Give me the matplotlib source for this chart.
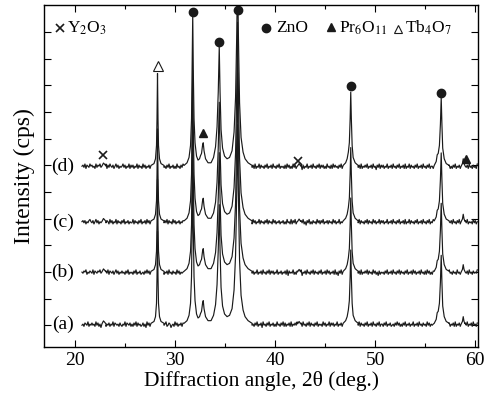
import numpy as np
import matplotlib
matplotlib.use("Agg")
import matplotlib.pyplot as plt

plt.rcParams['font.family'] = ['Liberation Serif', 'DejaVu Serif']
plt.rcParams['mathtext.fontset'] = 'stix'

# sample labels and the vertical offset of each pattern (arb. units)
labels = ["(a)", "(b)", "(c)", "(d)"]
baselines = [1.03, 2.98, 4.87, 6.95]

# background scan points (2theta) and noise read as digits 0..9 per trace
scan_start, scan_end, scan_step = 20.7, 60.2, 0.1
noise_a = ("4536547354" "6453746352" "5647354635" "4736545364" "3547365463"
           "5364736453" "4635274635" "5463746354" "3645734652" "4537463546"
           "3647354736" "4563746354" "3746535463" "4735364573" "6354735463"
           "4635273645" "3746354637" "4536473546" "2745364735" "4635374536"
           "4736354637" "3546473546" "3745364736" "4536473545" "3746354736"
           "4635473546" "3745364735" "4637354736" "4536473546" "3745364735"
           "5364735463" "4536474635" "3647354635" "4735463745" "3645374635"
           "4536374536" "3746354635" "4637354637" "3546473546" "3745364735")
noise_b = ("5465735465" "4736546574" "6354647365" "4635746354" "6453647354"
           "5364735463" "4536474635" "3647354635" "4735463745" "3645374635"
           "4536374536" "3746354635" "4637354637" "3546473546" "3745364735"
           "4635473645" "3746354736" "4635473546" "3745364736" "4635473546"
           "3546372645" "4735364637" "2546374536" "4736453647" "3546374635"
           "4637352647" "3546374536" "4736354637" "3546473645" "3746352635"
           "4536473546" "3745364736" "4536473546" "3746354637" "4536374635"
           "3647354636" "4735463745" "3645374536" "4735463745" "3645473546")
noise_c = ("5646354675" "4635746354" "5736465374" "6354736453" "6473546354"
           "4736453647" "3546374635" "4736354637" "3546473645" "3746354635"
           "4637354636" "4735463745" "3645374536" "4735463745" "3645473546"
           "3745364736" "4536473546" "3746354736" "4536473645" "3746354635"
           "4635374537" "3647354636" "4735264735" "3645374636" "4735463645"
           "3746354735" "4536473546" "3745264736" "4536473645" "3746354736"
           "4635473546" "3745364735" "4637354736" "4536473546" "3745364735"
           "4736354637" "3546473546" "3745364736" "4536473545" "3746354736")
noise_d = ("5647365475" "6453746574" "6354736475" "4635746354" "5746354736"
           "4635473645" "3746354637" "4536473546" "3745364735" "4635374536"
           "4736354637" "3546473546" "3745364736" "4536473545" "3746354736"
           "4635473546" "3745364735" "4637354736" "4536473546" "3745364735"
           "4536374635" "3746354736" "2635473546" "3745364736" "4635374536"
           "3746453647" "3546372635" "4736354637" "3546473546" "3745264736"
           "4635473546" "3745364735" "4637354736" "4536473546" "3745364735"
           "5364735463" "4536474635" "3647354635" "4735463745" "3645374635")
noise_scale = 0.042

# peak profiles: 2theta vertices and height above background
peak_x = [
    [22.7, 22.85, 22.95, 23.1],
    [27.6, 27.9, 28.05, 28.15, 28.2, 28.25, 28.3, 28.35, 28.45, 28.6, 28.9],
    [30.9, 31.2, 31.4, 31.55, 31.65, 31.72, 31.77, 31.83, 31.9, 32.0, 32.15,
     32.3, 32.45, 32.55, 32.65, 32.75, 32.82, 32.9, 33.05, 33.3, 33.6, 33.85,
     34.05, 34.2, 34.32, 34.42, 34.5, 34.6, 34.75, 34.95, 35.2, 35.45, 35.7,
     35.9, 36.05, 36.17, 36.25, 36.33, 36.45, 36.6, 36.8, 37.0, 37.3, 37.7],
    [42.25, 42.4, 42.55],
    [46.8, 47.05, 47.2, 47.32, 47.42, 47.5, 47.56, 47.62, 47.7, 47.8, 48.0, 48.3],
    [55.9, 56.1, 56.2, 56.3, 56.42, 56.52, 56.6, 56.67, 56.75, 56.9, 57.1, 57.4],
    [58.6, 58.72, 58.8, 58.88, 59.0],
]
peak_y = [
    [0.03, 0.14, 0.1, 0.03],
    [0.05, 0.12, 0.3, 0.8, 1.8, 3.5, 1.8, 0.8, 0.3, 0.12, 0.05],
    [0.05, 0.15, 0.35, 0.8, 1.8, 4.0, 5.7, 3.5, 1.8, 0.9, 0.4,
     0.25, 0.3, 0.42, 0.5, 0.8, 0.9, 0.6, 0.3, 0.15, 0.15, 0.35,
     0.75, 1.5, 2.8, 4.5, 2.8, 1.4, 0.7, 0.4, 0.3, 0.35, 0.6,
     1.3, 2.6, 5.0, 7.5, 5.0, 2.4, 1.1, 0.55, 0.3, 0.15, 0.05],
    [0.03, 0.12, 0.03],
    [0.05, 0.15, 0.3, 0.55, 0.9, 1.8, 2.8, 1.8, 0.8, 0.35, 0.15, 0.05],
    [0.05, 0.2, 0.45, 0.5, 0.8, 1.6, 2.6, 1.6, 0.7, 0.3, 0.12, 0.05],
    [0.03, 0.12, 0.3, 0.12, 0.03],
]

# phase markers (2theta, height)
y2o3_x, y2o3_y = [22.8, 42.3], [7.40, 7.18]
tb4o7_x, tb4o7_y = [28.25], [10.73]
zno_x, zno_y = [31.75, 34.42, 36.25, 47.55, 56.55], [12.76, 11.63, 12.83, 9.98, 9.72]
pr6o11_x, pr6o11_y = [32.8, 59.1], [8.22, 7.25]

grid = np.arange(scan_start, scan_end + 0.01, scan_step)

fig = plt.figure(figsize=(4.88, 4.08), dpi=100)
ax = fig.add_axes([0.090, 0.150, 0.890, 0.838])

for lab, base, ns in zip(labels, baselines, [noise_a, noise_b, noise_c, noise_d]):
    noise = (np.array([int(c) for c in ns[:len(grid)]]) - 4.5) * noise_scale
    keep = np.ones(len(grid), bool)
    for px in peak_x:
        keep &= ~((grid >= px[0]) & (grid <= px[-1]))
    xs = np.concatenate([grid[keep]] + [np.array(px) for px in peak_x])
    ys = np.concatenate([noise[keep]] + [np.array(py) for py in peak_y]) + base
    order = np.argsort(xs)
    ax.plot(xs[order], ys[order], color='#1a1a1a', lw=0.85)
    ax.text(18.8, base, lab, fontsize=14, ha='center', va='center')

ax.plot(y2o3_x, y2o3_y, 'x', color='#1a1a1a', ms=6, mew=1.2, clip_on=False)
ax.plot(tb4o7_x, tb4o7_y, '^', mfc='white', mec='#1a1a1a', ms=6.5, mew=0.8, clip_on=False)
ax.plot(zno_x, zno_y, 'o', color='#1a1a1a', ms=6, clip_on=False)
ax.plot(pr6o11_x, pr6o11_y, '^', color='#1a1a1a', ms=6, clip_on=False)

# legend entries written into the frame
tr = ax.transAxes
ax.plot([0.038], [0.933], 'x', color='#1a1a1a', ms=6, mew=1.2, transform=tr)
ax.text(0.052, 0.933, r'Y$_2$O$_3$', transform=tr, fontsize=12.5, va='center')
ax.plot([0.512], [0.933], 'o', color='#1a1a1a', ms=6, transform=tr)
ax.text(0.535, 0.933, 'ZnO', transform=tr, fontsize=12.5, va='center')
ax.plot([0.662], [0.935], '^', color='#1a1a1a', ms=5.5, transform=tr)
ax.text(0.680, 0.933, r'Pr$_6$O$_{11}$', transform=tr, fontsize=12.5, va='center')
ax.plot([0.815], [0.930], '^', mfc='white', mec='#1a1a1a', ms=6, mew=0.8, transform=tr)
ax.text(0.832, 0.933, r'Tb$_4$O$_7$', transform=tr, fontsize=12.5, va='center')

ax.set_xlim(16.9, 60.3)
ax.set_ylim(0.2, 13.02)
ax.set_xticks([20, 30, 40, 50, 60])
ax.set_xticks([25, 35, 45, 55], minor=True)
ax.set_yticks(np.arange(1, 13))
ax.set_yticklabels([])
ax.tick_params(which='both', direction='in', top=True, right=True, labelsize=14, width=0.8)
ax.tick_params(which='major', length=5)
ax.tick_params(which='minor', length=3)
for s in ax.spines.values():
    s.set_linewidth(1.0)
ax.set_xlabel('Diffraction angle, 2θ (deg.)', fontsize=15.5, labelpad=2)
ax.set_ylabel('Intensity (cps)', fontsize=17, labelpad=3)

fig.savefig('out.png', dpi=100)
